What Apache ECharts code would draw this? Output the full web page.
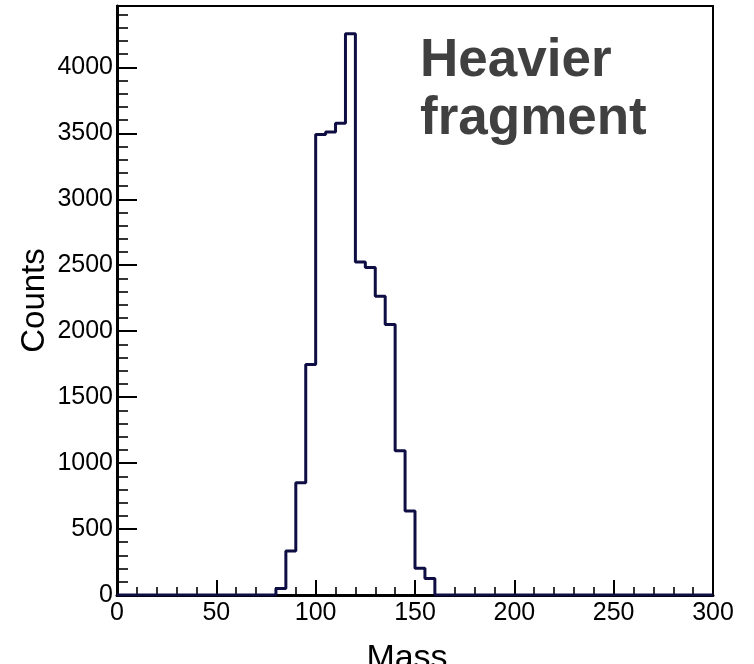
<!DOCTYPE html>
<html>
<head>
<meta charset="utf-8">
<script src="https://cdn.jsdelivr.net/npm/echarts@6/dist/echarts.min.js"></script>
<style>
  html, body { margin: 0; padding: 0; background: #ffffff; }
  #chart { width: 754px; height: 664px; }
</style>
</head>
<body>
<div id="chart"></div>
<script>
// Histogram of fragment mass, 5-unit bins from 0 to 300
const binStart = 0;
const binWidth = 5;
const counts = [
  0, 0, 0, 0, 0, 0, 0, 0, 0, 0, 0, 0, 0, 0, 0, 0,          // 0 - 80
  50, 333, 851, 1748, 3490, 3510, 3576, 4255,              // 80 - 120
  2525, 2482, 2265, 2051, 1093, 636, 202, 126,             // 120 - 160
  0, 0, 0, 0, 0, 0, 0, 0, 0, 0, 0, 0, 0, 0,                // 160 - 230
  0, 0, 0, 0, 0, 0, 0, 0, 0, 0, 0, 0, 0, 0                 // 230 - 300
];
const xTicks = [0, 50, 100, 150, 200, 250, 300];
const yTicks = [0, 500, 1000, 1500, 2000, 2500, 3000, 3500, 4000];
const yMax = 4465;
const titleLines = ['Heavier', 'fragment'];

// Step outline: one point per bin low edge, plus the closing upper edge
const outline = counts.map((c, i) => [binStart + i * binWidth, c]);
outline.push([binStart + counts.length * binWidth, counts[counts.length - 1]]);

const FONT = '"Liberation Sans", Arial, Helvetica, sans-serif';
const plain = v => String(v);

const chart = echarts.init(document.getElementById('chart'), null, { renderer: 'canvas' });
chart.setOption({
  backgroundColor: '#ffffff',
  animation: false,
  grid: {
    left: 117, right: 41, top: 6, bottom: 69,
    outerBoundsMode: 'none', containLabel: false,
    show: true, borderColor: '#000000', borderWidth: 2, backgroundColor: 'transparent'
  },
  xAxis: {
    type: 'value',
    min: xTicks[0], max: xTicks[xTicks.length - 1], interval: 50,
    name: 'Mass', nameLocation: 'middle', nameGap: 47,
    nameTextStyle: { fontFamily: FONT, fontSize: 34, color: '#000', padding: [0, 16, 0, 0] },
    axisLine: { show: true, lineStyle: { color: '#000', width: 3 } },
    axisTick: { show: true, inside: true, length: 15, lineStyle: { color: '#000', width: 2 } },
    minorTick: { show: true, splitNumber: 5, length: 8, lineStyle: { color: '#000', width: 1.6 } },
    axisLabel: {
      margin: 6, fontFamily: FONT, fontSize: 25, color: '#000',
      customValues: xTicks, formatter: plain
    },
    splitLine: { show: false },
    minorSplitLine: { show: false }
  },
  yAxis: {
    type: 'value',
    min: 0, max: yMax, interval: 500,
    name: 'Counts', nameLocation: 'middle', nameGap: 66, nameMoveOverlap: false,
    nameTextStyle: { fontFamily: FONT, fontSize: 33, color: '#000' },
    axisLine: { show: true, lineStyle: { color: '#000', width: 3 } },
    axisTick: { show: true, inside: true, length: 20, lineStyle: { color: '#000', width: 2 } },
    minorTick: { show: true, splitNumber: 5, length: 11, lineStyle: { color: '#000', width: 1.6 } },
    axisLabel: {
      margin: 4, fontFamily: FONT, fontSize: 25, color: '#000',
      customValues: yTicks, formatter: plain
    },
    splitLine: { show: false },
    minorSplitLine: { show: false }
  },
  series: [{
    type: 'line',
    step: 'end',
    data: outline,
    symbol: 'none',
    lineStyle: { color: '#0e0e44', width: 3 },
    clip: true,
    z: 3
  }],
  graphic: [
    {
      type: 'text', left: 420, top: 35, z: 10,
      style: { text: titleLines[0], font: 'bold 53px ' + FONT, fill: '#404040' }
    },
    {
      type: 'text', left: 420, top: 93, z: 10,
      style: { text: titleLines[1], font: 'bold 53px ' + FONT, fill: '#404040' }
    }
  ]
});
</script>
</body>
</html>
